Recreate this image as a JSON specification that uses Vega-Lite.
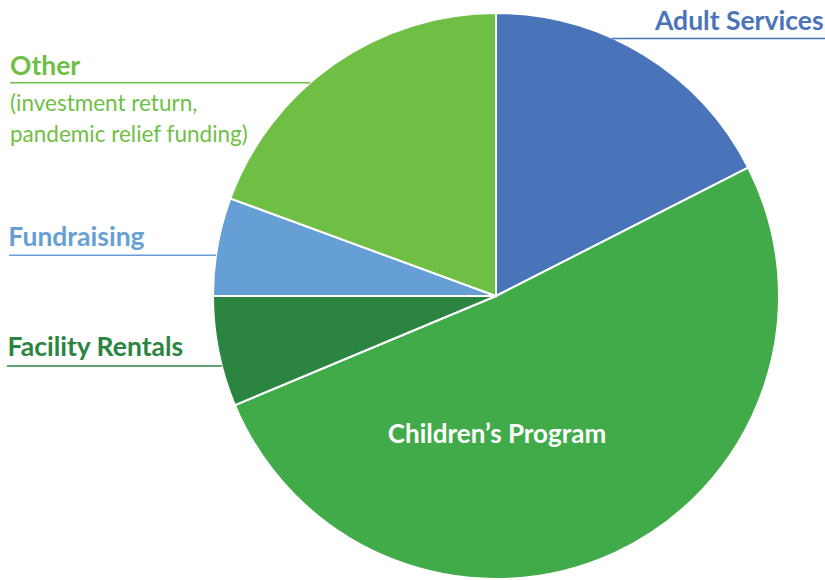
{
  "$schema": "https://vega.github.io/schema/vega-lite/v6.json",
  "autosize": "none",
  "width": 658,
  "height": 568,
  "padding": {"left": 167, "top": 12, "right": 0, "bottom": 0},
  "background": "white",
  "config": {"view": {"stroke": null}, "text": {"font": "Lato"}},
  "data": {
    "values": [
      {"source": "Adult Services", "share": 17.5, "rank": 1},
      {"source": "Children’s Program", "share": 51.2, "rank": 2},
      {"source": "Facility Rentals", "share": 6.3, "rank": 3},
      {"source": "Fundraising", "share": 5.6, "rank": 4},
      {"source": "Other", "share": 19.4, "rank": 5, "note": ["(investment return,", "pandemic relief funding)"]}
    ]
  },
  "layer": [
    {
      "encoding": {
        "theta": {"field": "share", "type": "quantitative", "stack": true},
        "order": {"field": "rank", "type": "quantitative"}
      },
      "layer": [
        {
          "mark": {"type": "arc", "outerRadius": 283, "stroke": "white", "strokeWidth": 2},
          "encoding": {
            "color": {
              "field": "source", "type": "nominal", "legend": null,
              "scale": {
                "domain": ["Adult Services", "Children’s Program", "Facility Rentals", "Fundraising", "Other"],
                "range": ["#4a74ba", "#41ab4a", "#2b843f", "#659fd6", "#70bf45"]
              }
            }
          }
        },
        {
          "mark": {"type": "text", "radius": 310, "align": "left", "baseline": "alphabetic", "dx": -3, "dy": -2, "fontSize": 26.5, "fontWeight": "bold", "color": "#4a74ba"},
          "encoding": {"text": {"condition": {"test": "datum.source === 'Adult Services'", "field": "source"}, "value": ""}}
        },
        {
          "mark": {"type": "text", "radius": 150, "align": "center", "baseline": "alphabetic", "dx": -62, "dy": 11, "fontSize": 26, "fontWeight": "bold", "color": "white"},
          "encoding": {"text": {"condition": {"test": "datum.rank === 2", "field": "source"}, "value": ""}}
        },
        {
          "mark": {"type": "text", "radius": 283, "align": "left", "baseline": "alphabetic", "dx": -211, "dy": 4, "fontSize": 26.5, "fontWeight": "bold", "color": "#2b843f"},
          "encoding": {"text": {"condition": {"test": "datum.source === 'Facility Rentals'", "field": "source"}, "value": ""}}
        },
        {
          "mark": {"type": "text", "radius": 283, "align": "left", "baseline": "alphabetic", "dx": -209, "dy": 0, "fontSize": 26.5, "fontWeight": "bold", "color": "#659fd6"},
          "encoding": {"text": {"condition": {"test": "datum.source === 'Fundraising'", "field": "source"}, "value": ""}}
        },
        {
          "mark": {"type": "text", "radius": 283, "align": "left", "baseline": "alphabetic", "dx": -324, "dy": 11, "fontSize": 26.5, "fontWeight": "bold", "color": "#70bf45"},
          "encoding": {"text": {"condition": {"test": "datum.source === 'Other'", "field": "source"}, "value": ""}}
        },
        {
          "mark": {"type": "text", "radius": 283, "align": "left", "baseline": "alphabetic", "dx": -324, "dy": 47, "fontSize": 22.5, "lineHeight": 31, "color": "#70bf45"},
          "encoding": {"text": {"condition": {"test": "datum.source === 'Other'", "field": "note"}, "value": ""}}
        }
      ]
    },
    {
      "data": {"values": [{"source": "Adult Services"}]},
      "mark": {"type": "rule", "color": "#4a74ba", "strokeWidth": 1.5},
      "encoding": {"x": {"value": 445}, "x2": {"value": 658}, "y": {"value": 26.5}}
    },
    {
      "data": {"values": [{"source": "Other"}]},
      "mark": {"type": "rule", "color": "#70bf45", "strokeWidth": 1.5},
      "encoding": {"x": {"value": -157}, "x2": {"value": 143}, "y": {"value": 70.7}}
    },
    {
      "data": {"values": [{"source": "Fundraising"}]},
      "mark": {"type": "rule", "color": "#659fd6", "strokeWidth": 1.5},
      "encoding": {"x": {"value": -158}, "x2": {"value": 49}, "y": {"value": 243.3}}
    },
    {
      "data": {"values": [{"source": "Facility Rentals"}]},
      "mark": {"type": "rule", "color": "#2b843f", "strokeWidth": 1.5},
      "encoding": {"x": {"value": -160}, "x2": {"value": 55}, "y": {"value": 354}}
    }
  ]
}
